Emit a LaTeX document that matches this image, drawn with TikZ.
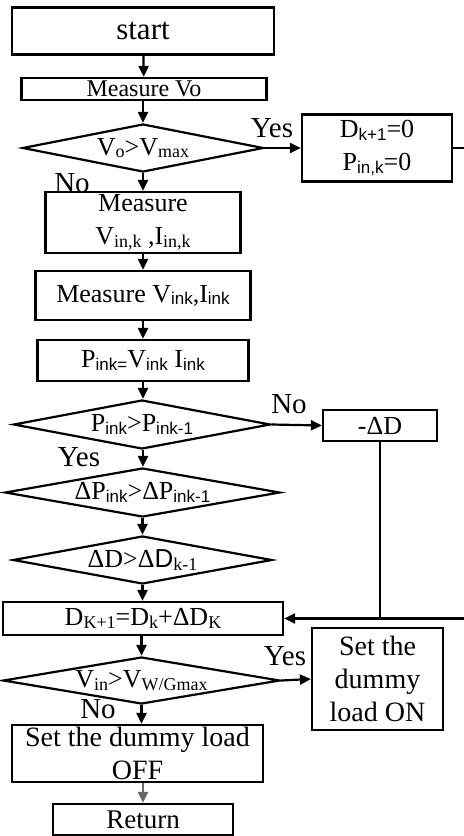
\documentclass[tikz,border=0pt]{standalone}
\usepackage{fontspec}
\setmainfont{Liberation Serif}
\newfontfamily\subsans{Liberation Sans}
\usepackage{tikz}
\usetikzlibrary{shapes.geometric, arrows.meta, positioning}
\definecolor{flowgray}{RGB}{105,105,105}
\newcommand{\lsub}[1]{\raisebox{-0.2ex}{\fontsize{9}{9}\selectfont #1}}
\newcommand{\lsubsf}[1]{\raisebox{-0.2ex}{\fontsize{8.5}{8.5}\selectfont\subsans #1}}
\tikzset{
    flow/.style={
        -{Triangle[length=5.5pt,width=5pt]}, line width=1.1pt, black
    },
    plainline/.style={
        line width=1.1pt, black
    }
}

\begin{document}
\begin{tikzpicture}[
        x=0.5pt, y=-0.5pt,
        % --- STYLE ---
        procbox/.style={draw, line width=1.1pt, inner sep=0pt, align=center, font=\fontsize{13}{16.5}\selectfont},
        decision/.style={diamond, draw, line width=1.1pt, inner sep=0pt},
        dtext/.style={font=\fontsize{13}{16}\selectfont, inner sep=0pt},
        yesno/.style={font=\fontsize{14.5}{15}\selectfont, inner sep=0pt}
    ]
        \useasboundingbox (0,0) rectangle (463,836);

        % ==========================================
        % main column
        % ==========================================
        \node[procbox, minimum width=131pt, minimum height=23.5pt, font=\fontsize{15.5}{18}\selectfont] (start) at (143,31) {start};
        \node[procbox, minimum width=122.5pt, minimum height=11pt, font=\fontsize{12}{14}\selectfont] (mvo) at (144,89) {Measure Vo};

        \node[decision, minimum width=120.5pt, minimum height=24pt] (d1) at (143,148) {};
        \node[dtext] (d1t) at (d1) {V\lsub{o}>V\lsub{max}};

        \node[procbox, minimum width=97.5pt, minimum height=30.5pt] (min) at (143,222.5) {Measure\\V\lsub{in,k} ,I\lsub{in,k}};
        \node[procbox, minimum width=107.5pt, minimum height=24.5pt] (mink) at (143,295.5) {Measure V\lsubsf{ink},I\lsubsf{ink}};
        \node[procbox, minimum width=105.5pt, minimum height=20.5pt] (pink) at (143,360.5) {P\lsubsf{ink=}V\lsubsf{ink} I\lsubsf{ink}};

        \node[decision, minimum width=128.5pt, minimum height=24.5pt] (d2) at (142,424.5) {};
        \node[dtext] (d2t) at (d2) {P\lsubsf{ink}>P\lsubsf{ink-1}};

        \node[decision, minimum width=137.5pt, minimum height=24.5pt] (d3) at (142.5,492.5) {};
        \node[dtext] (d3t) at (d3) {ΔP\lsubsf{ink}>ΔP\lsubsf{ink-1}};

        \node[decision, minimum width=129.5pt, minimum height=24pt] (d4) at (142.5,560) {};
        \node[dtext] (d4t) at (d4) {ΔD>Δ{\subsans D}\lsub{k-1}};

        \node[procbox, minimum width=140pt, minimum height=16.5pt] (upd) at (143,618.5) {D\lsub{K+1}=D\lsub{k}+ΔD\lsub{K}};

        \node[decision, minimum width=138.5pt, minimum height=23.5pt] (d5) at (141.5,680.5) {};
        \node[dtext] (d5t) at (d5) {V\lsub{in}>V\lsub{W/Gmax}};

        \node[procbox, minimum width=125.5pt, minimum height=28.5pt, font=\fontsize{14}{16.5}\selectfont] (doff) at (137.5,753.5) {Set the dummy load\\OFF};
        \node[procbox, minimum width=90pt, minimum height=15.5pt, font=\fontsize{13.5}{15}\selectfont] (ret) at (143,819.5) {Return};

        % ==========================================
        % right column
        % ==========================================
        \node[procbox, minimum width=75pt, minimum height=33.5pt] (dzero) at (377,148) {D\lsubsf{k+1}=0\\P\lsubsf{in,k}=0};
        \node[procbox, minimum width=57pt, minimum height=15.5pt] (negd) at (380,425.5) {-ΔD};
        \node[procbox, minimum width=65.5pt, minimum height=51pt, font=\fontsize{14}{16.5}\selectfont] (don) at (377.5,679) {Set the\\dummy\\load ON};

        % labels
        \node[yesno] (yes1) at (272,128) {Yes};
        \node[yesno] (no1) at (72,183) {No};
        \node[yesno] (no2) at (289,404) {No};
        \node[yesno] (yes2) at (79,457) {Yes};
        \node[yesno] (yes3) at (285,656) {Yes};
        \node[yesno] (no3) at (98,709) {No};

        % arrows
        \draw[flow] (start) -- (mvo);
        \draw[flow] (mvo.south -| d1.north) -- (d1.north);
        \draw[flow] (d1.south) -- (min.north -| d1.south);
        \draw[flow] (min) -- (mink);
        \draw[flow] (mink) -- (pink);
        \draw[flow] (pink.south) -- (pink.south |- d2.north);
        \draw[flow] (d2.south -| pink.south) -- (pink.south |- d3.north);
        \draw[flow] (d3.south) -- (d4.north);
        \draw[flow] (d4.south) -- (d4.south |- upd.north);
        \draw[flow] (upd.south -| d5.north) -- (d5.north);
        \draw[flow] (d5.south) -- (d5.south |- doff.north);
        \draw[flow, flowgray] (ret.north |- doff.south) -- (ret.north);

        \draw[flow] (d1.east) -- (dzero.west);
        \draw[flow] (d2.east) -- (negd.west);
        \draw[flow] (d5.east) -- (don.west);

        \draw[flow] (dzero.east) -- ++(22,0) |- (upd.east);
        \draw[plainline] (negd.south) -- (negd.south |- upd.east);

    \end{tikzpicture}
\end{document}
